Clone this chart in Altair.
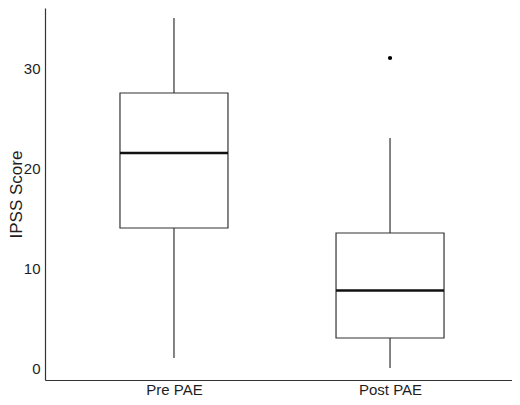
import altair as alt
import pandas as pd

groups = ["Pre PAE", "Post PAE"]
lower = [1, 0]
q1 = [14, 3]
median = [21.5, 7.75]
q3 = [27.5, 13.5]
upper = [35, 23]

outlier_groups = ["Post PAE"]
outlier_values = [31]

y_ticks = [0, 10, 20, 30]

stats = pd.DataFrame({
    "group": groups, "lower": lower, "q1": q1,
    "median": median, "q3": q3, "upper": upper,
})
outl = pd.DataFrame({"group": outlier_groups, "value": outlier_values})

FONT = "Liberation Sans"
LINE = "#333333"
TEXT = "#1e1e1e"

x_enc = alt.X(
    "group:N", sort=groups,
    scale=alt.Scale(type="point", range=[0, 474], padding=0.597),
    axis=alt.Axis(title=None, ticks=False, labelPadding=2, labelFontSize=15,
                  labelColor=TEXT, labelFont=FONT, domainColor=LINE,
                  domainWidth=1.2, labelAngle=0, grid=False),
)
y_scale = alt.Scale(domain=[-1.2, 36.0], nice=False, zero=False)
y_axis = alt.Axis(title="IPSS Score", values=y_ticks, ticks=False, grid=False,
                  labelPadding=5, labelFontSize=15, labelColor=TEXT,
                  labelFont=FONT, domainColor=LINE, domainWidth=1.2,
                  titleFont=FONT, titleFontSize=17, titleFontWeight="normal",
                  titleColor=TEXT, titleX=-23.5, titleY=186,
                  titleBaseline="alphabetic", titleAlign="center", titleAngle=270)

base = alt.Chart(stats)

whisk_low = base.mark_rule(color=LINE, strokeWidth=1.2).encode(
    x=x_enc, y=alt.Y("lower:Q", scale=y_scale, axis=y_axis), y2="q1:Q")
whisk_high = base.mark_rule(color=LINE, strokeWidth=1.2).encode(
    x=x_enc, y=alt.Y("q3:Q", scale=y_scale, axis=y_axis), y2="upper:Q")
box = base.mark_bar(size=108, fill="white", stroke=LINE, strokeWidth=1.2).encode(
    x=x_enc, y=alt.Y("q1:Q", scale=y_scale, axis=y_axis), y2="q3:Q")
med = base.mark_tick(size=108, thickness=2.3, color="#111111", opacity=1).encode(
    x=x_enc, y=alt.Y("median:Q", scale=y_scale, axis=y_axis))
pts = alt.Chart(outl).mark_circle(size=18, color="black", opacity=1).encode(
    x=x_enc, y=alt.Y("value:Q", scale=y_scale, axis=y_axis))

chart = alt.layer(whisk_low, whisk_high, box, med, pts).properties(
    width=467, height=372,
    autosize=alt.AutoSizeParams(type="none"),
    padding={"left": 37, "top": 0, "right": 0, "bottom": 17},
).configure_view(stroke="transparent")

chart.save("out.html", embed_options={"renderer": "svg", "actions": False})
